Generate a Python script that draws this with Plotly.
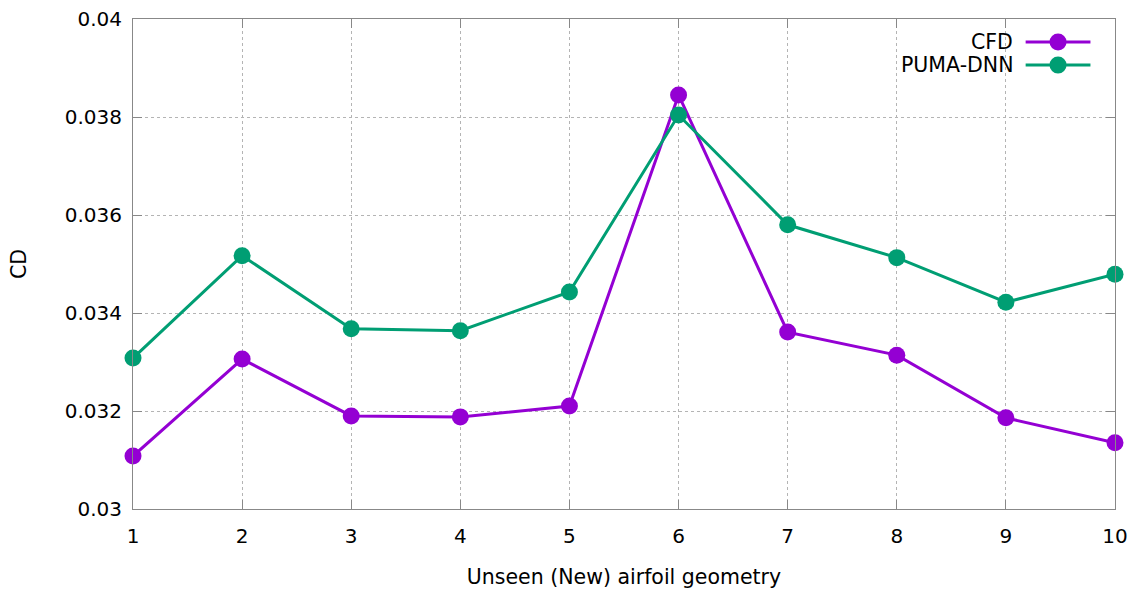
import plotly.graph_objects as go

# Airfoil index and drag coefficient values
geometry = [1, 2, 3, 4, 5, 6, 7, 8, 9, 10]
cd_cfd = [0.03108, 0.03306, 0.03190, 0.03188, 0.03210, 0.03845, 0.03361, 0.03314, 0.03186, 0.03135]
cd_puma = [0.03308, 0.03517, 0.03368, 0.03364, 0.03443, 0.03804, 0.03580, 0.03513, 0.03422, 0.03479]

series_names = ["CFD", "PUMA-DNN"]
series_colors = ["#9400D3", "#009E73"]

y_ticks = [0.03, 0.032, 0.034, 0.036, 0.038, 0.04]
y_tick_text = ["0.03", "0.032", "0.034", "0.036", "0.038", "0.04"]

FONT = "DejaVu Sans, Liberation Sans, sans-serif"
TICK_SIZE = 20
TEXT_SIZE = 20.5

fig = go.Figure()
for name, vals, col in zip(series_names, [cd_cfd, cd_puma], series_colors):
    fig.add_trace(go.Scatter(
        x=geometry, y=vals, name=name, mode="lines+markers",
        line=dict(color=col, width=3),
        marker=dict(color=col, size=17),
        cliponaxis=False,
    ))

axis_common = dict(
    automargin=False,
    showline=True, linecolor="#888888", linewidth=1, mirror="ticks",
    ticks="inside", ticklen=9, tickcolor="#888888", tickwidth=1,
    showgrid=True, gridcolor="#b4b4b4", gridwidth=1, griddash="dot",
    zeroline=False,
    tickfont=dict(family=FONT, size=TICK_SIZE, color="black"),
)

fig.update_xaxes(
    range=[1, 10], tickvals=geometry, ticktext=[str(g) for g in geometry],
    ticklabelstandoff=9,
    title=dict(text="Unseen (New) airfoil geometry",
               font=dict(family=FONT, size=TEXT_SIZE, color="black"), standoff=22),
    **axis_common,
)
fig.update_yaxes(
    range=[0.03, 0.04], tickvals=y_ticks, ticktext=y_tick_text,
    ticklabelstandoff=6,
    title=dict(text="CD", font=dict(family=FONT, size=TEXT_SIZE, color="black"), standoff=32),
    **axis_common,
)

# Legend drawn in the top-right corner: label on the left, line sample with marker on the right
legend_rows = [0.953, 0.906]
shapes = []
annotations = []
for name, col, yy in zip(series_names, series_colors, legend_rows):
    annotations.append(dict(
        xref="paper", yref="paper", x=0.898, y=yy, text=name, showarrow=False,
        xanchor="right", yanchor="middle", font=dict(family=FONT, size=TEXT_SIZE, color="black"),
    ))
    shapes.append(dict(
        type="line", xref="paper", yref="paper", x0=0.909, x1=0.975, y0=yy, y1=yy,
        line=dict(color=col, width=3),
    ))
    shapes.append(dict(
        type="circle", xref="paper", yref="paper",
        x0=0.942 - 0.0087, x1=0.942 + 0.0087, y0=yy - 0.0174, y1=yy + 0.0174,
        fillcolor=col, line=dict(color=col, width=0),
    ))

fig.update_layout(
    width=1140, height=590,
    margin=dict(l=133, r=25, t=19, b=81),
    plot_bgcolor="white", paper_bgcolor="white",
    showlegend=False,
    shapes=shapes, annotations=annotations,
    font=dict(family=FONT, size=TICK_SIZE, color="black"),
)

fig.write_html("out.html")
